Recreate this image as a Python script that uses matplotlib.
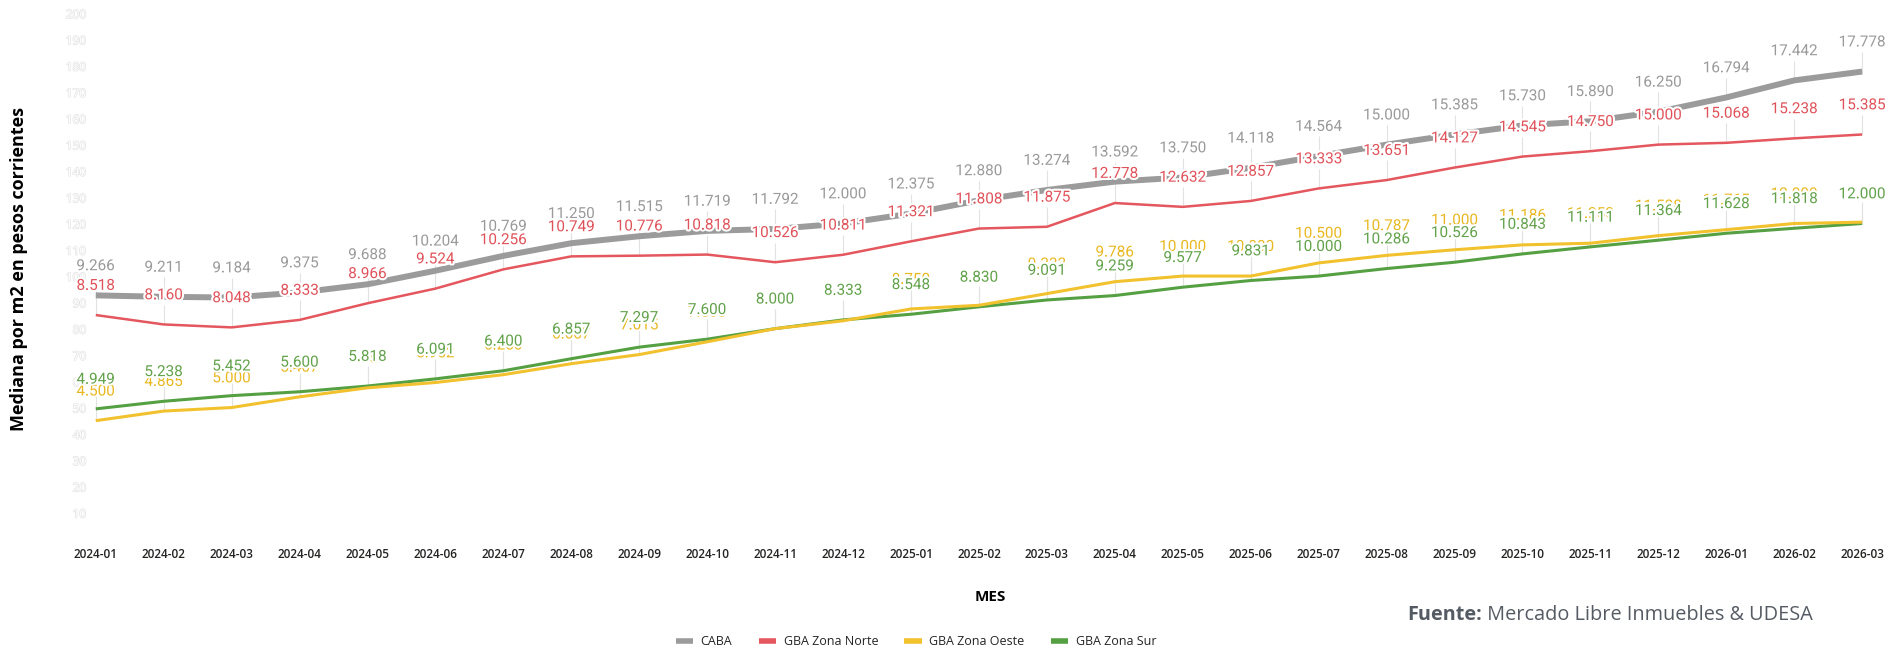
import matplotlib
matplotlib.use("Agg")
import matplotlib.pyplot as plt
import matplotlib.patheffects as pe
from matplotlib.lines import Line2D

meses = ["2024-01", "2024-02", "2024-03", "2024-04", "2024-05", "2024-06", "2024-07",
         "2024-08", "2024-09", "2024-10", "2024-11", "2024-12", "2025-01", "2025-02",
         "2025-03", "2025-04", "2025-05", "2025-06", "2025-07", "2025-08", "2025-09",
         "2025-10", "2025-11", "2025-12", "2026-01", "2026-02", "2026-03"]

caba = [9266, 9211, 9184, 9375, 9688, 10204, 10769, 11250, 11515, 11719, 11792, 12000,
        12375, 12880, 13274, 13592, 13750, 14118, 14564, 15000, 15385, 15730, 15890,
        16250, 16794, 17442, 17778]
zona_norte = [8518, 8160, 8048, 8333, 8966, 9524, 10256, 10749, 10776, 10818, 10526, 10811,
              11321, 11808, 11875, 12778, 12632, 12857, 13333, 13651, 14127, 14545, 14750,
              15000, 15068, 15238, 15385]
zona_oeste = [4500, 4865, 5000, 5407, 5750, 5952, 6250, 6667, 7015, 7500, 8000, 8300,
              8750, 8889, 9333, 9786, 10000, 10000, 10500, 10787, 11000, 11186, 11250,
              11538, 11765, 12000, 12050]
zona_sur = [4949, 5238, 5452, 5600, 5818, 6091, 6400, 6857, 7297, 7600, 8000, 8333,
            8548, 8830, 9091, 9259, 9577, 9831, 10000, 10286, 10526, 10843, 11111,
            11364, 11628, 11818, 12000]

nombres = ["CABA", "GBA Zona Norte", "GBA Zona Oeste", "GBA Zona Sur"]
valores = [caba, zona_norte, zona_oeste, zona_sur]
col_linea = ["#9b9b9b", "#e4575e", "#f2c12e", "#55a042"]
col_texto = ["#9a9a9a", "#e0525a", "#e9b820", "#62a24a"]
anchos = [4.3, 1.8, 2.2, 2.2]

fig = plt.figure(figsize=(18.89, 6.49), dpi=100)
ax = fig.add_axes([0.0471, 0.1695, 0.9423, 0.8305])

x = list(range(len(meses)))

for k, (nom, vals) in enumerate(zip(nombres, valores)):
    ys = [v / 100 for v in vals]
    ax.plot(x, ys, color=col_linea[k], lw=anchos[k], zorder=3 + (3 - k) * 0.1,
            solid_capstyle="butt", solid_joinstyle="round")
    # lineas guia detras de las series
    ax.vlines(x, ys, [y + 7.5 for y in ys], color="#e2e2e2", lw=0.8, zorder=1)

for k, vals in enumerate(valores):
    for i, v in enumerate(vals):
        txt = f"{v:,}".replace(",", ".")
        ax.annotate(txt, xy=(i, v / 100), xytext=(0, 21), textcoords="offset points",
                    ha="center", va="center", fontsize=11, family="Roboto",
                    color=col_texto[k], zorder=10 + k, annotation_clip=False,
                    path_effects=[pe.withStroke(linewidth=3, foreground="white")])

ax.set_xlim(-0.1, 26.1)
ax.set_ylim(0, 205)
ax.set_yticks(range(10, 201, 10))
ax.set_xticks(x)
ax.set_xticklabels(meses, fontsize=8.5, fontweight="semibold", family="Open Sans",
                   color="#252423")
ax.tick_params(axis="x", length=0, pad=6.5)
ax.tick_params(axis="y", length=0, pad=2, labelsize=8.5, labelcolor="white")
for lbl in ax.get_yticklabels():
    lbl.set_path_effects([pe.withStroke(linewidth=0.9, foreground="#e2e2e2")])
    lbl.set_family("Open Sans")
for s in ax.spines.values():
    s.set_visible(False)

ax.set_ylabel("Mediana por m2 en pesos corrientes", fontsize=13, fontweight="bold",
              family="Open Sans", color="black")
ax.yaxis.set_label_coords(-0.0343, 0.5)

fig.text(0.524, 0.0801, "MES", ha="center", va="center", fontsize=11,
         fontweight="bold", family="Open Sans", color="black")

t1 = fig.text(0.7448, 0.0524, "Fuente:", ha="left", va="center", fontsize=14.3,
              fontweight="bold", family="Open Sans", color="#555b63")
ax.annotate(" Mercado Libre Inmuebles & UDESA", xy=(1, 0.5), xycoords=t1,
            ha="left", va="center", fontsize=14.3, family="Open Sans", color="#555b63",
            annotation_clip=False)

handles = [Line2D([0], [0], color=c, lw=4, solid_capstyle="butt") for c in col_linea]
leg = fig.legend(handles, nombres, loc="center", bbox_to_anchor=(0.485, 0.0108), ncol=4,
                 frameon=False, handlelength=1.4, columnspacing=2.1,
                 handletextpad=0.6, prop={"family": "Open Sans", "size": 9})
for t in leg.get_texts():
    t.set_color("#252423")

fig.savefig("out.png", dpi=100)
